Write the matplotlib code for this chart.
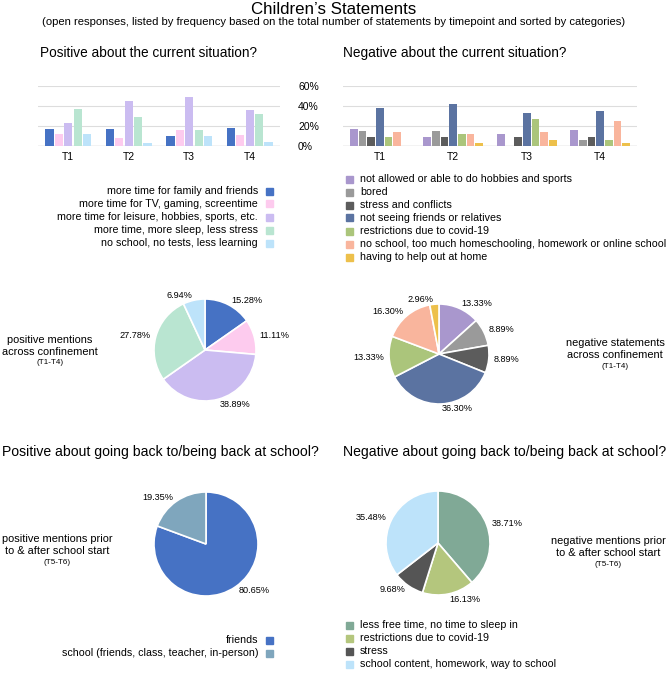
import numpy as np
from matplotlib import pyplot as plt

plt.rcParams['font.family'] = ['Liberation Sans', 'DejaVu Sans']

W, H = 669, 675

timepoints = ["T1", "T2", "T3", "T4"]

# positive about the current situation (% per timepoint)
pos_labels = ["more time for family and friends",
              "more time for TV, gaming, screentime",
              "more time for leisure, hobbies, sports, etc.",
              "more time, more sleep, less stress",
              "no school, no tests, less learning"]
pos_colors = ["#4672c4", "#fdcbee", "#cbbcf1", "#b9e5d1", "#bde3fa"]
pos_values = [[17.3, 16.7, 10.0, 18.0],
              [11.7, 7.7, 15.7, 11.0],
              [23.0, 45.3, 48.7, 36.0],
              [37.0, 28.7, 15.7, 32.0],
              [12.0, 2.7, 10.3, 4.0]]
pos_pie = [15.28, 11.11, 38.89, 27.78, 6.94]

# negative about the current situation
neg_labels = ["not allowed or able to do hobbies and sports",
              "bored",
              "stress and conflicts",
              "not seeing friends or relatives",
              "restrictions due to covid-19",
              "no school, too much homeschooling, homework or online school",
              "having to help out at home"]
neg_colors = ["#a997cd", "#9a9a9a", "#5c5c5c", "#5b73a1", "#abc57b", "#f9b59d", "#edc04b"]
neg_values = [[17.3, 8.7, 12.3, 16.0],
              [14.7, 14.7, 0.0, 5.7],
              [8.7, 8.7, 8.7, 9.0],
              [37.7, 41.7, 32.7, 34.7],
              [8.7, 12.3, 27.0, 5.7],
              [14.3, 12.0, 14.3, 25.0],
              [0.0, 2.7, 5.7, 3.3]]
neg_pie = [13.33, 8.89, 8.89, 36.30, 13.33, 16.30, 2.96]

# back to school
school_pos_labels = ["friends", "school (friends, class, teacher, in-person)"]
school_pos_colors = ["#4672c4", "#7fa6bd"]
school_pos_pie = [80.65, 19.35]

school_neg_labels = ["less free time, no time to sleep in",
                     "restrictions due to covid-19",
                     "stress",
                     "school content, homework, way to school"]
school_neg_colors = ["#80a996", "#b4c67d", "#555555", "#bde3fa"]
school_neg_pie = [38.71, 16.13, 9.68, 35.48]

fig = plt.figure(figsize=(W / 100, H / 100), dpi=100)

LEG = 7.7
SIDE = 7.9


def px_axes(x0, y0, x1, y1):
    return fig.add_axes([x0 / W, 1 - y1 / H, (x1 - x0) / W, (y1 - y0) / H])


def txt(x, y, s, **kw):
    fig.text(x / W, 1 - y / H, s, **kw)


def bars(ax, values, colors, pitch, width):
    n = len(values)
    x = np.arange(len(timepoints))
    for i, (vals, c) in enumerate(zip(values, colors)):
        ax.bar(x + (i - (n - 1) / 2) * pitch, vals, width, color=c, zorder=3)
    ax.set_xlim(-0.5, len(timepoints) - 0.5)
    ax.set_ylim(0, 60)
    ax.set_yticks([0, 20, 40, 60])
    ax.grid(axis="y", color="#dddddd", linewidth=0.8, zorder=0)
    ax.axhline(0, color="#cccccc", linewidth=1, zorder=2)
    ax.set_xticks(x)
    ax.set_xticklabels(timepoints, fontsize=7.5)
    ax.tick_params(length=0, pad=4)
    for s in ax.spines.values():
        s.set_visible(False)


def pie(cx, cy, r, vals, colors):
    ax = px_axes(cx - 1.25 * r, cy - 1.25 * r, cx + 1.25 * r, cy + 1.25 * r)
    ax.pie(vals, colors=colors, startangle=90, counterclock=False,
           labels=["%.2f%%" % v for v in vals], labeldistance=1.1,
           textprops={"fontsize": 6.6},
           wedgeprops={"edgecolor": "white", "linewidth": 1.2})
    ax.set_xlim(-1.25, 1.25)
    ax.set_ylim(-1.25, 1.25)
    return ax


def legend_left(x_right, y0, labels, colors, step=13):
    for i, (l, c) in enumerate(zip(labels, colors)):
        y = y0 + i * step
        txt(x_right, y, l, ha="right", va="center", fontsize=LEG)
        fig.patches.append(plt.Rectangle(((x_right + 8) / W, 1 - (y + 3.5) / H), 7 / W, 7 / H,
                                         transform=fig.transFigure, color=c))


def legend_right(x_left, y0, labels, colors, step=13):
    for i, (l, c) in enumerate(zip(labels, colors)):
        y = y0 + i * step
        fig.patches.append(plt.Rectangle((x_left / W, 1 - (y + 3.5) / H), 7 / W, 7 / H,
                                         transform=fig.transFigure, color=c))
        txt(x_left + 14, y, l, ha="left", va="center", fontsize=LEG)


def side_text(x, y, s, sub):
    txt(x, y, s, ha="center", va="center", fontsize=SIDE, linespacing=1.2)
    txt(x, y + 17, sub, ha="center", va="center", fontsize=5.8)


# titles
txt(334, 10, "Children\u2019s Statements", ha="center", va="center", fontsize=12.2)
txt(334, 22, "(open responses, listed by frequency based on the total number of statements "
             "by timepoint and sorted by categories)", ha="center", va="center", fontsize=8.1)

txt(40, 53, "Positive about the current situation?", va="center", fontsize=9.8)
txt(343, 53, "Negative about the current situation?", va="center", fontsize=9.8)
txt(2, 452, "Positive about going back to/being back at school?", va="center", fontsize=10.1)
txt(343, 452, "Negative about going back to/being back at school?", va="center", fontsize=10.1)

# bar charts
ax1 = px_axes(38, 86, 280, 146)
bars(ax1, pos_values, pos_colors, 0.155, 0.135)
ax1.yaxis.tick_right()
ax1.set_yticklabels(["0%", "20%", "40%", "60%"], fontsize=7.5)
ax1.tick_params(axis="y", pad=13)

ax2 = px_axes(343, 86, 637, 146)
bars(ax2, neg_values, neg_colors, 0.118, 0.105)
ax2.set_yticklabels([])

legend_left(258, 191, pos_labels, pos_colors)
legend_right(346, 179, neg_labels, neg_colors)

# confinement pies
pie(205, 350, 51, pos_pie, pos_colors)
pie(439, 354, 50, neg_pie, neg_colors)

side_text(50, 346, "positive mentions\nacross confinement", "(T1-T4)")
side_text(615, 349, "negative statements\nacross confinement", "(T1-T4)")

# school pies
pie(206, 544, 52, school_pos_pie, school_pos_colors)
pie(438, 543, 52, school_neg_pie, school_neg_colors)

side_text(57, 545, "positive mentions prior\nto & after school start", "(T5-T6)")
side_text(608, 547, "negative mentions prior\nto & after school start", "(T5-T6)")

legend_left(258, 640, school_pos_labels, school_pos_colors)
legend_right(346, 625, school_neg_labels, school_neg_colors)

fig.savefig("out.png", dpi=100)
